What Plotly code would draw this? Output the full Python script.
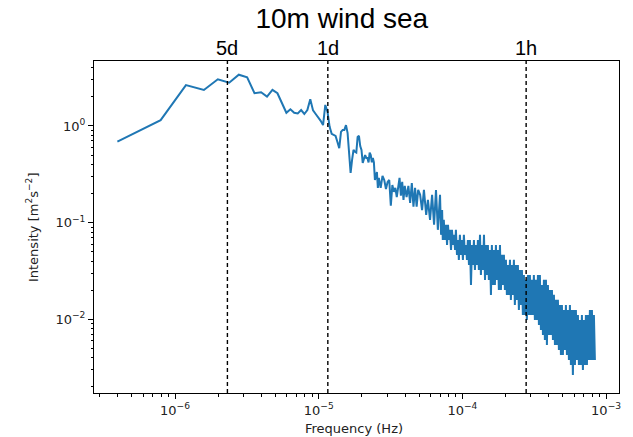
import math
import plotly.graph_objects as go

# ---------------- data ----------------
title_text = "10m wind sea"
freq_resolution_hz = 3.97e-7  # spacing of the spectral estimate

harmonic = [
    1, 2, 3, 4, 5, 6, 7, 8, 9, 10, 11, 12, 13, 14, 15, 16, 17, 18, 19, 20,
    21, 22, 23, 24, 25, 26, 27, 28, 29, 30, 31, 32, 33, 34, 35, 36, 37, 38, 39, 40,
    41, 42, 43, 44, 45, 46, 47, 48, 49, 50, 51, 52, 53, 54, 55, 56, 57, 58, 59, 60,
    61, 62, 64, 65, 66, 68, 70, 72, 74, 76, 78, 80, 82, 84, 86, 88, 90, 92, 94, 96,
    98, 100, 103, 106, 109, 112, 115, 118, 121, 124,
    128, 132, 136, 141, 145, 150, 155, 160, 165, 170,
    176, 179, 182, 184, 187, 190, 194, 197, 200, 203,
    206, 210, 213, 217, 220, 224, 227, 231, 235, 238,
    242, 246, 250, 254, 258, 262, 267, 271, 275, 280,
    284, 289, 294, 298, 303, 308, 313, 318, 323, 328,
    334, 339, 345, 350, 356, 362, 367, 373, 379, 385,
    392, 398, 404, 411, 418, 424, 431, 438, 445, 452,
    460, 467, 475, 482, 490, 498, 506, 514, 522, 531,
    540, 548, 557, 566, 575, 584, 594, 604, 613, 623,
    633, 644, 654, 664, 675, 686, 697, 708, 720, 732,
    743, 755, 768, 780, 792, 805, 818, 832, 845, 859,
    872, 887, 901, 916, 930, 945, 961, 976, 992, 1008,
    1024, 1041, 1058, 1075, 1092, 1110, 1128, 1146, 1164, 1183,
    1202, 1222, 1241, 1261, 1282, 1302, 1323, 1345, 1366, 1389,
    1411, 1434, 1457, 1480, 1504, 1529, 1553, 1578, 1604, 1630,
    1656, 1683, 1710, 1738, 1766, 1794, 1823, 1853, 1883, 1913,
    1944, 1976, 2008, 2040, 2073, 2106,
]

intensity = [
    0.69, 1.15, 2.65, 2.36, 3.04, 2.80, 3.39, 3.19, 2.18, 2.23, 2.01, 2.36, 2.18, 1.73, 1.37, 1.49, 1.37, 1.35, 1.46, 1.33,
    1.46, 1.89, 1.45, 1.33, 1.24, 1.13, 1.02, 1.65, 1.40, 0.98, 0.83, 0.81, 0.79, 0.683, 0.59, 0.867, 0.91, 0.91, 1.02, 0.85,
    0.565, 0.327, 0.445, 0.565, 0.54, 0.53, 0.77, 0.79, 0.62, 0.565, 0.415, 0.467, 0.50, 0.467, 0.467, 0.42, 0.53, 0.50, 0.42, 0.467,
    0.42, 0.276, 0.334, 0.229, 0.29, 0.229, 0.304, 0.276, 0.223, 0.264, 0.276, 0.150, 0.245, 0.208, 0.229, 0.184, 0.245, 0.29, 0.19, 0.264,
    0.172, 0.24, 0.184, 0.24, 0.16, 0.257, 0.146, 0.229, 0.146, 0.218,
    0.194, 0.135, 0.218, 0.120, 0.172, 0.107, 0.194, 0.0950, 0.218, 0.0843,
    0.194, 0.0748, 0.135, 0.0662, 0.107, 0.0662, 0.0950, 0.0588, 0.0950, 0.0662,
    0.0843, 0.0522, 0.0843, 0.0588, 0.0748, 0.0522, 0.0843, 0.0464, 0.0662, 0.0412,
    0.0748, 0.0464, 0.0662, 0.0412, 0.0748, 0.0464, 0.0588, 0.0412, 0.0662, 0.0365,
    0.0662, 0.0227, 0.0588, 0.0365, 0.0662, 0.0324, 0.0588, 0.0365, 0.0662, 0.0324,
    0.0748, 0.0288, 0.0588, 0.0324, 0.0748, 0.0256, 0.0588, 0.0288, 0.0588, 0.0256,
    0.0522, 0.0179, 0.0588, 0.0227, 0.0522, 0.0227, 0.0588, 0.0256, 0.0522, 0.0201,
    0.0588, 0.0201, 0.0464, 0.0227, 0.0464, 0.0201, 0.0412, 0.0179, 0.0365, 0.0179,
    0.0412, 0.0159, 0.0365, 0.0179, 0.0412, 0.0141, 0.0365, 0.0159, 0.0365, 0.0125,
    0.0324, 0.0141, 0.0324, 0.0111, 0.0288, 0.0111, 0.0256, 0.00986, 0.0288, 0.0111,
    0.0288, 0.0111, 0.0256, 0.0111, 0.0288, 0.00986, 0.0256, 0.00986, 0.0288, 0.00876,
    0.0288, 0.00777, 0.0227, 0.00690, 0.0256, 0.00612, 0.0256, 0.00543, 0.0227, 0.00690,
    0.0201, 0.00690, 0.0201, 0.00612, 0.0179, 0.00543, 0.0159, 0.00543, 0.0159, 0.00483,
    0.0141, 0.00428, 0.0141, 0.00428, 0.0125, 0.00483, 0.0141, 0.00428, 0.0125, 0.00380,
    0.0141, 0.00337, 0.0125, 0.00266, 0.0125, 0.00337, 0.0125, 0.00380, 0.0111, 0.00337,
    0.00986, 0.00337, 0.0111, 0.00300, 0.00986, 0.00337, 0.0111, 0.00337, 0.0111, 0.00380,
    0.0125, 0.00380, 0.0125, 0.00380, 0.0111, 0.00380,
]

period_labels = ["5d", "1d", "1h"]
period_seconds = [5 * 86400, 86400, 3600]

x_tick_exponents = [-6, -5, -4, -3]
y_tick_exponents = [-2, -1, 0]

# ---------------- figure ----------------
frequency = [k * freq_resolution_hz for k in harmonic]

fig = go.Figure()
fig.add_trace(go.Scatter(
    x=frequency, y=intensity, mode="lines",
    line=dict(color="#1f77b4", width=2),
    showlegend=False, hoverinfo="skip",
))

for lab, sec in zip(period_labels, period_seconds):
    f = 1.0 / sec
    fig.add_shape(type="line", xref="x", yref="paper", x0=f, x1=f, y0=0, y1=1,
                  line=dict(color="black", width=1.4, dash="4px,3px"), layer="above")
    # annotations on a log axis take log10 coordinates
    fig.add_annotation(x=math.log10(f), xref="x", y=1, yref="paper", yanchor="bottom", yshift=0,
                       text=lab, showarrow=False,
                       font=dict(family="Liberation Sans, Arial, sans-serif", size=20, color="black"))

def minor_vals(exps):
    out = []
    for e in range(min(exps) - 1, max(exps) + 1):
        for m in range(2, 10):
            out.append(m * 10.0 ** e)
    return out

def tick_label(e):
    return "10<sup>0</sup>" if e == 0 else "10<sup>\u2212%d</sup>" % (-e)

tick_font = dict(family="DejaVu Sans, sans-serif", size=13, color="#222222")

fig.update_xaxes(
    type="log", range=[-6.564, -2.91],
    showline=True, mirror=True, linecolor="black", linewidth=1,
    showgrid=False, zeroline=False,
    ticks="outside", ticklen=5, tickwidth=1, tickcolor="black",
    tickvals=[10.0 ** e for e in x_tick_exponents],
    ticktext=[tick_label(e) for e in x_tick_exponents],
    tickfont=tick_font,
    minor=dict(ticks="outside", ticklen=2.5, tickwidth=1, tickcolor="black",
               tickvals=minor_vals(x_tick_exponents), showgrid=False),
)
fig.update_yaxes(
    type="log", range=[-2.762, 0.672],
    showline=True, mirror=True, linecolor="black", linewidth=1,
    showgrid=False, zeroline=False,
    ticks="outside", ticklen=5, tickwidth=1, tickcolor="black",
    tickvals=[10.0 ** e for e in y_tick_exponents],
    ticktext=[tick_label(e) for e in y_tick_exponents],
    tickfont=tick_font,
    minor=dict(ticks="outside", ticklen=2.5, tickwidth=1, tickcolor="black",
               tickvals=minor_vals(y_tick_exponents), showgrid=False),
)

fig.add_annotation(xref="paper", yref="paper", x=0.495, y=-0.108, yanchor="middle",
                   text="Frequency (Hz)", showarrow=False,
                   font=dict(family="DejaVu Sans, sans-serif", size=13, color="#222222"))
fig.add_annotation(xref="paper", yref="paper", x=-0.118, y=0.5, xanchor="center",
                   textangle=-90, text="Intensity [m<sup>2</sup>s<sup>\u22122</sup>]", showarrow=False,
                   font=dict(family="DejaVu Sans, sans-serif", size=13, color="#222222"))

fig.update_layout(
    width=633, height=437,
    margin=dict(l=94, r=14, t=61, b=44),
    paper_bgcolor="white", plot_bgcolor="white",
    title=dict(text=title_text, x=0.540, xanchor="center", y=0.959, yanchor="middle",
               font=dict(family="Liberation Sans, Arial, sans-serif", size=28, color="black")),
)

fig.write_html("out.html", config={"displayModeBar": False},
               post_script="document.body.style.margin='0';document.body.style.overflow='hidden';")
